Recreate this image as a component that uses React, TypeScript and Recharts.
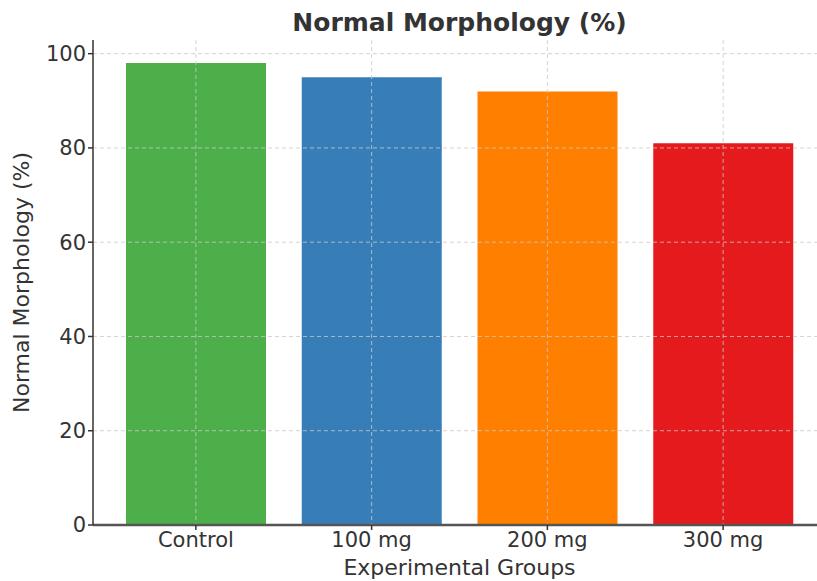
import React from "react";
import { BarChart, Bar, XAxis, YAxis, CartesianGrid, Cell } from "recharts";

const groups = ["Control", "100 mg", "200 mg", "300 mg"];
const morphology = [98, 95, 92, 81];
const barColors = ["#4daf4a", "#377eb8", "#ff7f00", "#e41a1c"];
const yTicks = [0, 20, 40, 60, 80, 100];
const yMax = 102.9;
const xPad = 15;

const data = groups.map((g, i) => ({ group: g, value: morphology[i] }));

const FONT = "DejaVu Sans, sans-serif";
const TEXT = "#333333";

const gridYTicks = yTicks.filter((t) => t > 0);

const hGen = (props: any) => {
  const { yAxis, offset } = props;
  const sc = yAxis && yAxis.scale;
  if (typeof sc === "function") return gridYTicks.map((t) => sc(t));
  return gridYTicks.map((t) => offset.top + offset.height * (1 - t / yMax));
};

const vGen = (props: any) => {
  const { xAxis, offset } = props;
  const sc = xAxis && xAxis.scale;
  if (typeof sc === "function" && typeof sc.bandwidth === "function") {
    return groups.map((g) => sc(g) + sc.bandwidth() / 2);
  }
  const band = (offset.width - 2 * xPad) / groups.length;
  return groups.map((_, i) => offset.left + xPad + band * (i + 0.5));
};

export default function App() {
  return (
    <div style={{ position: "absolute", left: 0, top: 0, width: 817, height: 581, overflow: "hidden", background: "#fff" }}>
      <div
        style={{
          position: "absolute",
          left: 93,
          width: 733,
          top: 6,
          textAlign: "center",
          fontFamily: FONT,
          fontWeight: "bold",
          fontSize: 25,
          color: TEXT,
          lineHeight: "34px",
        }}
      >
        Normal Morphology (%)
      </div>
      <BarChart
        width={826}
        height={581}
        data={data}
        margin={{ top: 40, right: 0, bottom: 0, left: 0 }}
        barCategoryGap={0}
      >
        <XAxis
          zIndex={1100}
          dataKey="group"
          height={56}
          padding={{ left: xPad, right: xPad }}
          tick={{ fill: TEXT, fontSize: 21, fontFamily: FONT }}
          tickLine={{ stroke: "#333", strokeWidth: 1.5 }}
          tickSize={5}
          axisLine={{ stroke: "#555", strokeWidth: 2.5 }}
          interval={0}
          label={{
            value: "Experimental Groups",
            position: "insideBottom",
            offset: 6,
            fill: TEXT,
            fontSize: 22,
            fontFamily: FONT,
          }}
        />
        <YAxis
          zIndex={1100}
          width={93}
          domain={[0, yMax]}
          ticks={yTicks}
          allowDataOverflow
          tick={{ fill: TEXT, fontSize: 21, fontFamily: FONT }}
          tickLine={{ stroke: "#333", strokeWidth: 1.5 }}
          tickSize={5}
          axisLine={{ stroke: "#333", strokeWidth: 1.5 }}
          label={{
            value: "Normal Morphology (%)",
            angle: -90,
            position: "insideLeft",
            offset: 21,
            style: { textAnchor: "middle" },
            fill: TEXT,
            fontSize: 22,
            fontFamily: FONT,
          }}
        />
        <Bar dataKey="value" barSize={140} isAnimationActive={false}>
          {data.map((d, i) => (
            <Cell key={d.group} fill={barColors[i]} />
          ))}
        </Bar>
        <CartesianGrid
          zIndex={1000}
          stroke="#c8c8c8"
          strokeOpacity={0.8}
          strokeDasharray="4 3"
          strokeWidth={1}
          horizontalCoordinatesGenerator={hGen}
          verticalCoordinatesGenerator={vGen}
        />
      </BarChart>
    </div>
  );
}
